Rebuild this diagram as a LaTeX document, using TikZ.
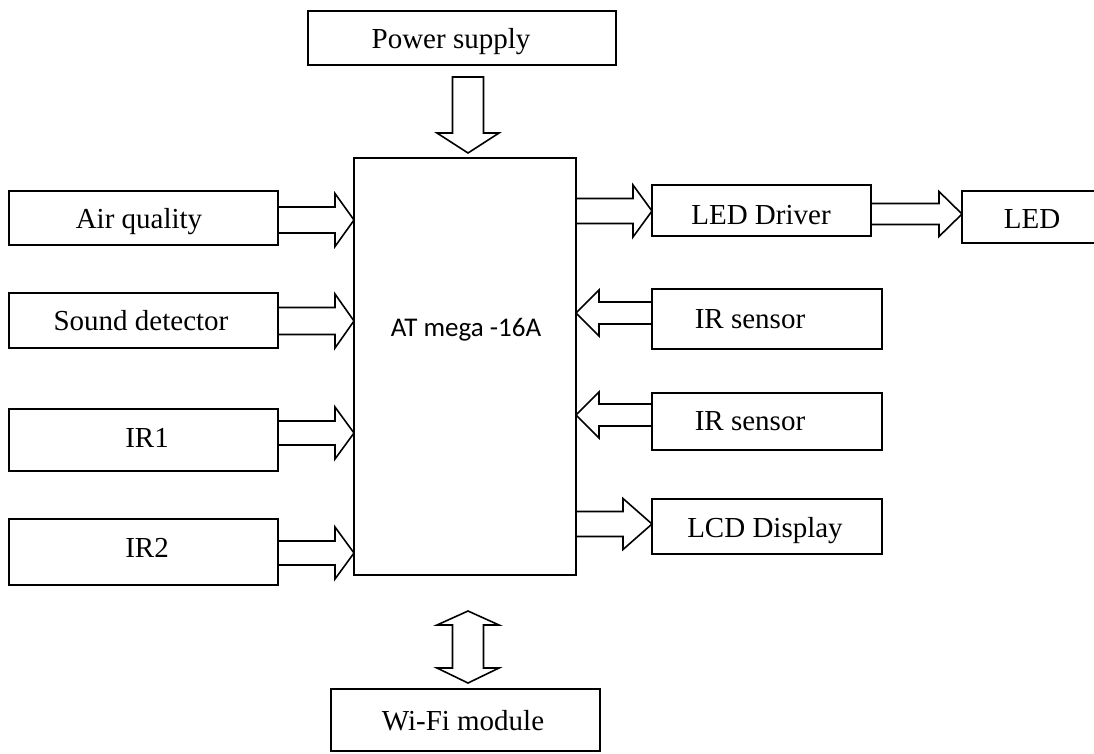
\documentclass[tikz,border=0pt]{standalone}
\usepackage{fontspec}
\setmainfont{Liberation Serif}
\newfontfamily\calib{Carlito}
\usetikzlibrary{calc}
\tikzset{
  box/.style={draw, line width=1.6pt, inner sep=0pt, outer sep=0pt, anchor=north west},
  lbl/.style={font=\fontsize{29}{34}\selectfont, inner sep=0pt, anchor=base},
  barrow/.style={draw, line width=1.6pt, line join=miter, fill=white}
}
% horizontal block arrow: from, to, shaft half, head half, head length (signed)
\newcommand\harrow[5]{%
  \draw[barrow] let \p1=#1, \p2=#2 in
    (\x1,{\y2+#3}) -- ({\x2-(#5)},{\y2+#3}) -- ({\x2-(#5)},{\y2+#4}) -- (\x2,\y2)
    -- ({\x2-(#5)},{\y2-#4}) -- ({\x2-(#5)},{\y2-#3}) -- (\x1,{\y2-#3}) -- cycle;}
% vertical block arrow (downwards)
\newcommand\varrow[5]{%
  \draw[barrow] let \p1=#1, \p2=#2 in
    ({\x2+#3},\y1) -- ({\x2+#3},{\y2+#5}) -- ({\x2+#4},{\y2+#5}) -- (\x2,\y2)
    -- ({\x2-#4},{\y2+#5}) -- ({\x2-#3},{\y2+#5}) -- ({\x2-#3},\y1) -- cycle;}
\begin{document}
\begin{tikzpicture}[x=1pt,y=-1pt]
\clip (0,0) rectangle (1094,753);
\fill[white] (0,0) rectangle (1094,753);

% boxes
\node[box, minimum width=308pt, minimum height=54pt] (power) at (308,11) {};
\node[box, minimum width=269pt, minimum height=54pt] (air) at (9,191) {};
\node[box, minimum width=269pt, minimum height=55pt] (sound) at (9,293) {};
\node[box, minimum width=269pt, minimum height=62pt] (irone) at (9,409) {};
\node[box, minimum width=269pt, minimum height=66pt] (irtwo) at (9,519) {};
\node[box, minimum width=222pt, minimum height=417pt] (main) at (354,158) {};
\node[box, minimum width=219pt, minimum height=51pt] (leddrv) at (652,185) {};
\node[box, minimum width=150pt, minimum height=52pt] (led) at (962,191) {};
\node[box, minimum width=230pt, minimum height=60pt] (irsa) at (652,289) {};
\node[box, minimum width=230pt, minimum height=57pt] (irsb) at (652,393) {};
\node[box, minimum width=230pt, minimum height=55pt] (lcd) at (652,499) {};
\node[box, minimum width=269pt, minimum height=62pt] (wifi) at (331,689) {};

% texts
\node[lbl] (tpower) at (451,48) {Power supply};
\node[lbl] (tair) at (139,228) {Air quality};
\node[lbl] (tsound) at (141,330) {Sound detector};
\node[lbl] (tirone) at (147,447) {IR1};
\node[lbl] (tirtwo) at (147,557) {IR2};
\node[inner sep=0pt, anchor=base, font=\calib\fontsize{27}{32}\selectfont] (tmain) at (466,336) {AT mega -16A};
\node[lbl] (tleddrv) at (761,224) {LED Driver};
\node[lbl] (tled) at (1032,228) {LED};
\node[lbl] (tirsa) at (750,328) {IR sensor};
\node[lbl] (tirsb) at (750,430) {IR sensor};
\node[lbl] (tlcd) at (765,537) {LCD Display};
\node[lbl] (twifi) at (463,730) {Wi-Fi module};

% arrow levels
\coordinate (ya) at (0,220);
\coordinate (yb) at (0,321);
\coordinate (yc) at (0,433);
\coordinate (yd) at (0,553);
\coordinate (ye) at (0,211);
\coordinate (yf) at (0,214);
\coordinate (yg) at (0,313);
\coordinate (yh) at (0,415);
\coordinate (yi) at (0,524);
\coordinate (vx) at (468,0);

% left inputs
\harrow{(air.east |- ya)}{(main.west |- ya)}{13pt}{26.5pt}{19pt}
\harrow{(sound.east |- yb)}{(main.west |- yb)}{13.5pt}{27pt}{19pt}
\harrow{(irone.east |- yc)}{(main.west |- yc)}{12pt}{26pt}{19pt}
\harrow{(irtwo.east |- yd)}{(main.west |- yd)}{12pt}{26pt}{19pt}
% right side
\harrow{(main.east |- ye)}{(leddrv.west |- ye)}{12.5pt}{26pt}{19pt}
\harrow{(leddrv.east |- yf)}{(led.west |- yf)}{10.5pt}{22.5pt}{23pt}
\harrow{(irsa.west |- yg)}{(main.east |- yg)}{11pt}{23pt}{-23pt}
\harrow{(irsb.west |- yh)}{(main.east |- yh)}{11pt}{23pt}{-23pt}
\harrow{(main.east |- yi)}{(lcd.west |- yi)}{12.5pt}{25.5pt}{29pt}

% power arrow
\varrow{($(power.south -| vx)+(0,12)$)}{($(main.north -| vx)+(0,-5)$)}{15.5pt}{31pt}{20pt}

% double arrow to Wi-Fi module
\coordinate (dtop) at ($(main.south -| vx)+(0,36)$);
\coordinate (dbot) at ($(wifi.north -| vx)+(0,-6)$);
\draw[barrow] let \p1=(dtop), \p2=(dbot) in
  (\x1,\y1) -- ({\x1+31pt},{\y1-14pt}) -- ({\x1+15.5pt},{\y1-14pt})
  -- ({\x1+15.5pt},{\y2+15pt}) -- ({\x1+31pt},{\y2+15pt}) -- (\x1,\y2)
  -- ({\x1-31pt},{\y2+15pt}) -- ({\x1-15.5pt},{\y2+15pt})
  -- ({\x1-15.5pt},{\y1-14pt}) -- ({\x1-31pt},{\y1-14pt}) -- cycle;
\end{tikzpicture}
\end{document}
